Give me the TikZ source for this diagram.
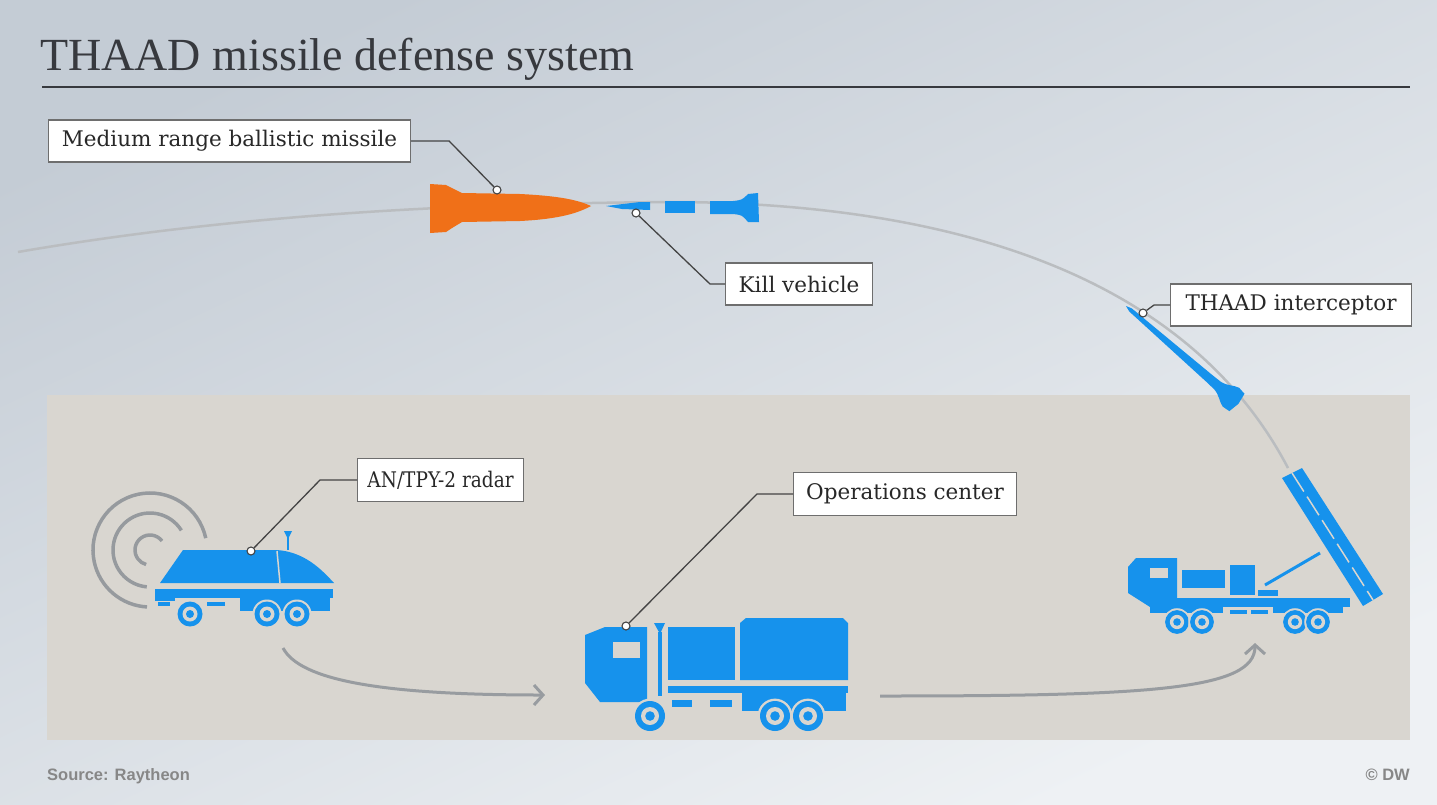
\documentclass[tikz,border=0pt]{standalone}
\usepackage{fontspec}
\setmainfont{Liberation Serif}
\newfontfamily\labelfont{DejaVu Serif}
\newfontfamily\labelnarrow[FakeStretch=0.86]{DejaVu Serif}
\newfontfamily\footfont{Liberation Sans}
\usetikzlibrary{arrows.meta}

\definecolor{thaadblue}{RGB}{22,146,236}
\definecolor{missileorange}{RGB}{240,112,24}
\definecolor{groundgrey}{RGB}{217,214,208}
\definecolor{skytop}{RGB}{196,204,213}
\definecolor{skybottom}{RGB}{238,241,244}
\definecolor{pathgrey}{RGB}{186,189,192}
\definecolor{titleink}{RGB}{55,57,62}
\definecolor{leaderink}{RGB}{68,68,68}
\definecolor{labelframe}{RGB}{110,110,110}
\definecolor{labelink}{RGB}{40,40,40}
\definecolor{flowgrey}{RGB}{152,156,160}
\definecolor{ringgrey}{RGB}{150,154,158}
\definecolor{footink}{RGB}{135,135,135}

\tikzset{
  bluepart/.style={fill=thaadblue},
  callout/.style={draw=labelframe, fill=white, line width=1.1pt,
    font=\labelfont\fontsize{21.5}{26}\selectfont, text=labelink,
    inner sep=0pt, anchor=west},
  leader/.style={draw=leaderink, line width=1.3pt},
  pindot/.style={circle, draw=leaderink, fill=white, line width=1.1pt,
    inner sep=0pt, minimum size=8pt},
  flow/.style={draw=flowgrey, line width=3pt,
    -{Straight Barb[length=9pt,width=20pt,line width=3pt]}},
  ring/.style={draw=ringgrey, line width=3.5pt},
  wheel/.pic={
    \fill[groundgrey] (0,0) circle (14.5);
    \fill[thaadblue] (0,0) circle (12.5);
    \fill[groundgrey] (0,0) circle (7.5);
    \fill[thaadblue] (0,0) circle (4);
  }
}

\begin{document}
\begin{tikzpicture}[x=1pt,y=-1pt]
\useasboundingbox (0,0) rectangle (1437,804);

% sky and ground
\shade[top color=skytop, middle color=skybottom, bottom color=skybottom, shading angle=25]
  (0,0) rectangle (1437,804);
\fill[groundgrey] (47,395) rectangle (1410,740);

% title
\node[anchor=base west, inner sep=0pt, text=titleink,
      font=\fontsize{46}{50}\selectfont] (title) at (40,70) {THAAD missile defense system};
\draw[titleink, line width=1.8pt] (42,87) -- (1410,87);

% flight path
\draw[pathgrey, line width=2.5pt] (18,252) .. controls (250,212) and (480,203) .. (680,202)
  .. controls (1000,205) and (1200,300) .. (1288,468);

% ballistic missile
\fill[missileorange] (430,184) -- (446,185) .. controls (452,188) .. (462,193)
  -- (520,194) .. controls (560,196) and (578,200) .. (591,206)
  .. controls (578,213) and (560,219) .. (520,221) -- (462,222)
  .. controls (452,228) .. (446,232) -- (430,233) -- cycle;

% kill vehicle
\fill[bluepart] (606,206) -- (640,202) -- (650,202) -- (650,210) -- (622,209) -- cycle;
\fill[bluepart] (665,201) rectangle (695,213);
\fill[bluepart] (710,201) -- (733,201) .. controls (742,200) .. (748,194) -- (758,193)
  -- (759,222) -- (748,222) .. controls (742,215) .. (733,214) -- (710,214) -- cycle;

% THAAD interceptor
\begin{scope}[shift={(1126,306)}, rotate=-41]
  \fill[bluepart] (0,0) -- (6,-2) -- (110,-4.5) -- (121,-5) .. controls (129,-6) and (133,-11) .. (139,-12.5)
    -- (147,-11.5) -- (149,0) -- (147,11.5) -- (139,12.5) .. controls (133,11) and (129,6) .. (121,5)
    -- (110,4.5) -- (6,2) -- cycle;
\end{scope}

% radar signal rings
\draw[ring] (150,550) ++(-37:15) arc[start angle=-37, end angle=-255, radius=15];
\draw[ring] (150,550) ++(-32:37) arc[start angle=-32, end angle=-265, radius=37];
\draw[ring] (150,550) ++(-12:57) arc[start angle=-12, end angle=-267, radius=57];

% AN/TPY-2 radar vehicle
\fill[bluepart] (160,583) -- (183,550) -- (277,550) .. controls (305,552) and (322,570) .. (334,583) -- cycle;
\draw[groundgrey, line width=1.5pt] (277,551) -- (280,583);
\draw[thaadblue, line width=2pt] (288,536) -- (288,550);
\fill[bluepart] (284,531) -- (292,531) -- (288,539) -- cycle;
\fill[bluepart] (155,589) rectangle (333,598);
\fill[bluepart] (155,598) rectangle (175,601);
\fill[bluepart] (158,602) rectangle (170,606);
\fill[bluepart] (207,602) rectangle (225,606);
\fill[bluepart] (240,598) rectangle (330,611);
\pic at (190,614) {wheel};
\pic at (267,614) {wheel};
\pic at (297,614) {wheel};

% operations center truck
\fill[bluepart] (585,635) -- (605,627) -- (647,627) -- (647,702) -- (600,702) -- (585,683) -- cycle;
\fill[groundgrey] (613,642) rectangle (640,658);
\fill[bluepart] (654,623) -- (665,623) -- (660,634) -- cycle;
\fill[bluepart] (658,632) rectangle (662,696);
\fill[bluepart] (668,627) rectangle (735,680);
\fill[bluepart] (740,623) -- (746,618) -- (843,618) -- (848,623) -- (848,680) -- (740,680) -- cycle;
\fill[bluepart] (668,686) rectangle (848,693);
\fill[bluepart] (742,693) rectangle (846,711);
\fill[bluepart] (672,700) rectangle (692,707);
\fill[bluepart] (710,700) rectangle (732,707);
\pic[scale=1.2] at (650,716) {wheel};
\pic[scale=1.2] at (775,716) {wheel};
\pic[scale=1.2] at (808,716) {wheel};

% launcher truck
\fill[bluepart] (1282,478) -- (1302,468) -- (1383,594) -- (1363,606) -- cycle;
\draw[groundgrey, line width=1.5pt, dash pattern=on 22pt off 6pt] (1292,473) -- (1373,600);
\fill[bluepart] (1128,567) -- (1136,558) -- (1177,558) -- (1177,607) -- (1150,607) -- (1128,593) -- cycle;
\fill[groundgrey] (1150,568) rectangle (1168,578);
\fill[bluepart] (1182,570) rectangle (1225,588);
\fill[bluepart] (1230,565) rectangle (1255,595);
\fill[bluepart] (1258,590) rectangle (1278,596);
\draw[thaadblue, line width=3pt] (1265,585) -- (1320,553);
\fill[bluepart] (1177,598) rectangle (1350,607);
\fill[bluepart] (1150,607) rectangle (1223,613);
\fill[bluepart] (1230,610) rectangle (1247,614);
\fill[bluepart] (1251,610) rectangle (1268,614);
\fill[bluepart] (1273,607) rectangle (1343,613);
\pic[scale=0.95] at (1177,622) {wheel};
\pic[scale=0.95] at (1202,622) {wheel};
\pic[scale=0.95] at (1295,622) {wheel};
\pic[scale=0.95] at (1318,622) {wheel};

% callout boxes
\node[callout, minimum width=362pt, minimum height=42pt] (mrbm) at (48,141) {Medium range ballistic missile};
\node[callout, minimum width=147pt, minimum height=42pt] (kill) at (725,284) {Kill vehicle};
\node[callout, minimum width=241pt, minimum height=42pt] (interceptor) at (1170,305) {THAAD interceptor};
\node[callout, minimum width=166pt, minimum height=43pt] (radar) at (357,480) {\labelnarrow AN/TPY-2 radar};
\node[callout, minimum width=223pt, minimum height=43pt] (ops) at (793,494) {Operations center};

% callout pins
\node[pindot] (mrbm-pin) at (497,190) {};
\node[pindot] (kill-pin) at (636,213) {};
\node[pindot] (interceptor-pin) at (1143,313) {};
\node[pindot] (radar-pin) at (251,551) {};
\node[pindot] (ops-pin) at (626,626) {};

\draw[leader] (mrbm.east) -- ++(38,0) -- (mrbm-pin);
\draw[leader] (kill.west) -- ++(-15,0) -- (kill-pin);
\draw[leader] (interceptor.west) -- ++(-16,0) -- (interceptor-pin);
\draw[leader] (radar.west) -- ++(-37,0) -- (radar-pin);
\draw[leader] (ops.west) -- ++(-36,0) -- (ops-pin);

% flow between units
\coordinate (radar-out) at (283,648);
\coordinate (ops-in) at (545,695);
\coordinate (ops-out) at (880,696);
\coordinate (launcher-in) at (1255,643);
\draw[flow] (radar-out) .. controls (300,680) and (380,695) .. (ops-in);
\draw[flow] (ops-out) .. controls (1150,696) and (1255,690) .. (launcher-in);

% footer
\node[anchor=base west, inner sep=0pt, text=footink,
      font=\footfont\bfseries\fontsize{16.5}{20}\selectfont] (source) at (47,780) {Source: Raytheon};
\node[anchor=base east, inner sep=0pt, text=footink,
      font=\footfont\bfseries\fontsize{16.5}{20}\selectfont] (credit) at (1410,780) {© DW};
\end{tikzpicture}
\end{document}
